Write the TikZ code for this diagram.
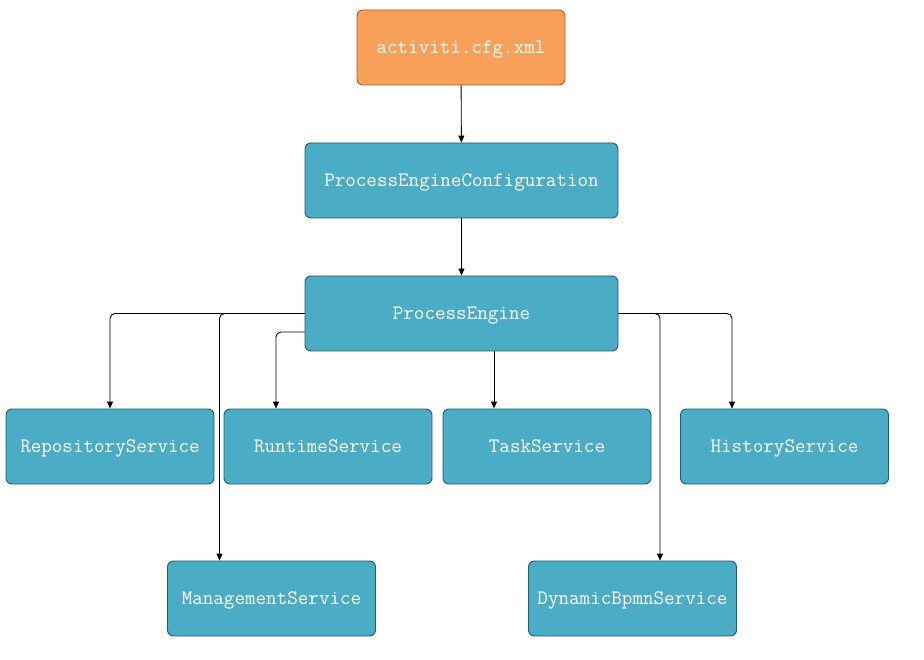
\documentclass[tikz,border=0pt]{standalone}
\usetikzlibrary{arrows.meta, positioning}
\definecolor{cfgorange}{RGB}{246,160,90}
\definecolor{cfgborder}{RGB}{170,92,28}
\definecolor{svcteal}{RGB}{75,172,198}
\definecolor{svcborder}{RGB}{33,92,108}

\begin{document}
\begin{tikzpicture}[x=1pt, y=-1pt,
  font=\fontsize{20.5}{22}\selectfont\ttfamily,
  box/.style={draw=svcborder, fill=svcteal, text=white, rounded corners=6pt, line width=0.9pt,
              minimum width=208pt, minimum height=75pt, inner sep=0pt,
              text height=12.5pt, text depth=1pt},
  widebox/.style={box, minimum width=313pt},
  cfgbox/.style={box, draw=cfgborder, fill=cfgorange},
  ar/.style={-{Triangle[length=7pt, width=6pt]}, line width=0.9pt, rounded corners=5pt}]

\useasboundingbox (0,0) rectangle (924,660);

% --- top: config file -> configuration -> engine
\node[cfgbox] (cfg) at (461,47.5) {activiti.cfg.xml};
\node[widebox] (pec) at (461.5,180.5) {ProcessEngineConfiguration};
\node[widebox] (pe) at (461.5,313.5) {ProcessEngine};

% --- services, first row
\node[box] (repo) at (110,446.5) {RepositoryService};
\node[box] (runtime) at (328,446.5) {RuntimeService};
\node[box] (task) at (547,446.5) {TaskService};
\node[box] (hist) at (784.5,446.5) {HistoryService};

% --- services, second row
\node[box] (mgmt) at (271.5,598.5) {ManagementService};
\node[box] (dyn) at (632.5,598.5) {DynamicBpmnService};

\draw[ar] (cfg) -- (pec);
\draw[ar] (pec) -- (pe);
% left side branches
\draw[ar] (pe.west) -| (repo.north);
\draw[ar] (pe.west) -| ([xshift=-52pt]mgmt.north);
\draw[ar] ([yshift=-18.5pt]pe.west) -| ([xshift=-52pt]runtime.north);
% straight down
\draw[ar] ([xshift=-53pt]task.north |- pe.south) -- ([xshift=-53pt]task.north);
% right side branches
\draw[ar] (pe.east) -| ([xshift=27.5pt]dyn.north);
\draw[ar] (pe.east) -| ([xshift=-52.5pt]hist.north);
\end{tikzpicture}
\end{document}
